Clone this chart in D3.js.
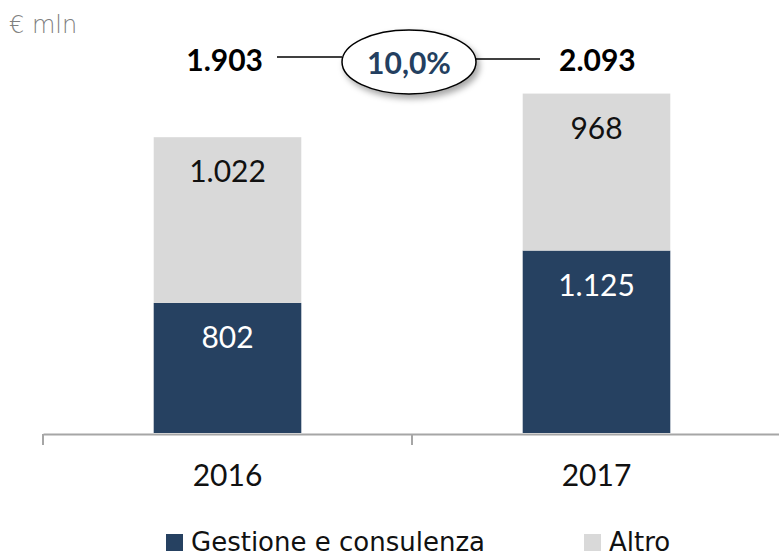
<!DOCTYPE html>
<html lang="it">
<head>
<meta charset="UTF-8">
<title>Gestione e consulenza vs Altro</title>
<script src="https://d3js.org/d3.v7.min.js"></script>
<style>
    body { margin: 0; background: #fff; }
    svg { display: block; }
    .num { font-family: Lato, "Open Sans", sans-serif; }
    .lbl { font-family: "DejaVu Sans", sans-serif; }
</style>
</head>
<body>
<svg id="chart" width="779" height="560"></svg>

<script>
    // data
    const years = ["2016", "2017"];
    const gestione = [802, 1125];
    const altro = [1022, 968];
    const totals = ["1.903", "2.093"];
    const growth = "10,0%";
    const seriesNames = ["Gestione e consulenza", "Altro"];

    const colors = ["#264161", "#d9d9d9"];
    const fmt = d3.formatLocale({ decimal: ",", thousands: ".", grouping: [3] }).format(",d");

    const svg = d3.select("#chart");
    const baseY = 433;

    const x = d3.scaleBand().domain(years).range([43, 781])
        .paddingInner(0.6).paddingOuter(0.3);
    const y = d3.scaleLinear().domain([0, 2670]).range([baseY, 0]);

    const rows = years.map((yr, i) => ({ year: yr, gestione: gestione[i], altro: altro[i] }));
    const stack = d3.stack().keys(["gestione", "altro"])(rows);

    // bars
    const layers = svg.selectAll(".layer").data(stack).join("g")
        .attr("class", "layer")
        .attr("fill", (d, i) => colors[i]);

    layers.selectAll("rect").data(d => d).join("rect")
        .attr("x", d => x(d.data.year))
        .attr("width", x.bandwidth())
        .attr("y", d => y(d[1]))
        .attr("height", d => y(d[0]) - y(d[1]));

    // value labels near the top of each segment
    layers.each(function (layer, li) {
        d3.select(this).selectAll("text").data(layer).join("text")
            .attr("class", "num")
            .attr("x", d => x(d.data.year) + x.bandwidth() / 2)
            .attr("y", d => y(d[1]) + 45)
            .attr("text-anchor", "middle")
            .attr("font-size", 30)
            .attr("fill", li === 0 ? "#fff" : "#111")
            .text(d => fmt(d[1] - d[0]));
    });

    // x axis
    const axis = svg.append("g")
        .attr("transform", `translate(0,${baseY + 1})`)
        .call(d3.axisBottom(x).tickSize(0).tickSizeOuter(0));
    axis.select(".domain").attr("stroke", "#a6a6a6").attr("stroke-width", 2);
    axis.selectAll(".tick text")
        .attr("class", "num")
        .attr("dy", null)
        .attr("y", 52)
        .attr("font-size", 30)
        .attr("fill", "#111");

    // category boundary ticks
    const bounds = years.map(d => x(d) - x.step() * x.paddingOuter());
    axis.selectAll(".bound").data(bounds).join("line")
        .attr("class", "bound")
        .attr("x1", d => d).attr("x2", d => d)
        .attr("y1", 0).attr("y2", 11)
        .attr("stroke", "#a6a6a6").attr("stroke-width", 2);

    // unit
    svg.append("text")
        .attr("class", "lbl")
        .attr("x", 9).attr("y", 33)
        .attr("font-size", 24)
        .attr("font-weight", 300)
        .attr("fill", "#7f7f7f")
        .text("€ mln");

    // totals and growth bubble
    const defs = svg.append("defs");
    const f = defs.append("filter").attr("id", "shadow")
        .attr("x", "-20%").attr("y", "-20%").attr("width", "150%").attr("height", "160%");
    f.append("feDropShadow").attr("dx", 3).attr("dy", 4).attr("stdDeviation", 3)
        .attr("flood-color", "#000").attr("flood-opacity", 0.35);

    const cx = (x(years[0]) + x(years[1]) + x.bandwidth()) / 2 - 3;
    const cy = 62;

    svg.append("line").attr("x1", 277).attr("x2", cx - 67).attr("y1", 57).attr("y2", 57)
        .attr("stroke", "#000").attr("stroke-width", 1.5);
    svg.append("line").attr("x1", cx + 67).attr("x2", 540).attr("y1", 59).attr("y2", 59)
        .attr("stroke", "#000").attr("stroke-width", 1.5);

    svg.append("ellipse")
        .attr("cx", cx).attr("cy", cy).attr("rx", 67).attr("ry", 32)
        .attr("fill", "#fff").attr("stroke", "#000").attr("stroke-width", 1.5)
        .attr("filter", "url(#shadow)");

    svg.append("text")
        .attr("class", "num")
        .attr("x", cx).attr("y", 74)
        .attr("text-anchor", "middle")
        .attr("font-size", 30).attr("font-weight", 700)
        .attr("fill", "#243f60")
        .text(growth);

    svg.selectAll(".total").data(totals).join("text")
        .attr("class", "num total")
        .attr("x", (d, i) => i === 0 ? 263 : 559)
        .attr("y", 71)
        .attr("text-anchor", (d, i) => i === 0 ? "end" : "start")
        .attr("font-size", 30).attr("font-weight", 700)
        .attr("fill", "#000")
        .text(d => d);

    // legend
    const legendX = [166, 584];
    const legend = svg.selectAll(".legend").data(seriesNames).join("g")
        .attr("class", "legend")
        .attr("transform", (d, i) => `translate(${legendX[i]},534)`);
    legend.append("rect").attr("width", 17).attr("height", 17)
        .attr("fill", (d, i) => colors[i]);
    legend.append("text")
        .attr("class", "lbl")
        .attr("x", 25).attr("y", 17)
        .attr("font-size", 26)
        .attr("fill", "#111")
        .text(d => d);
</script>
</body>
</html>
